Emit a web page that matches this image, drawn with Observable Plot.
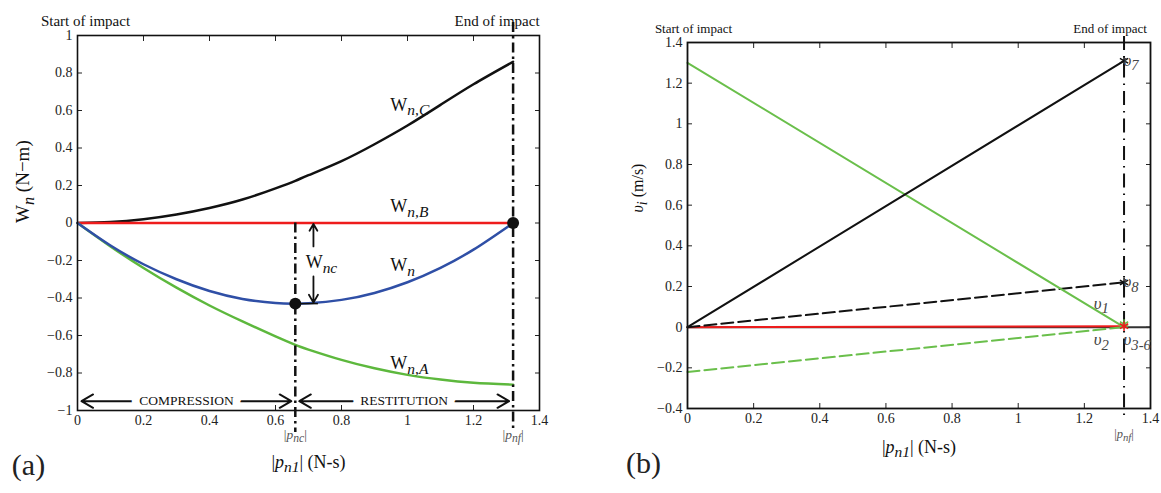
<!DOCTYPE html>
<html><head><meta charset="utf-8">
<script src="https://cdn.jsdelivr.net/npm/d3@7"></script>
<script src="https://cdn.jsdelivr.net/npm/@observablehq/plot@0.6"></script>
<style>
body{margin:0;background:#fff;}
#wrap{display:flex;width:1161px;height:493px;overflow:hidden;}
#wrap svg{display:block;flex:none;}
</style></head><body><div id="wrap"></div>
<script>
// ---------------- DATA ----------------
const pnc = 0.66;   // |p_nc|
const pnf = 1.32;   // |p_nf|
const wMin = -0.43; // W_n at |p_nc|

// panel (a) curves
const xGrid = [0, 0.1, 0.2, 0.3, 0.4, 0.5, 0.6, 0.66, 0.7, 0.8, 0.9, 1.0, 1.1, 1.2, 1.32];
const wnC   = [0, 0.005, 0.02, 0.045, 0.08, 0.125, 0.185, 0.225, 0.255, 0.33, 0.42, 0.52, 0.63, 0.74, 0.86];
const wnB   = [0, 0, 0, 0, 0, 0, 0, 0, 0, 0, 0, 0, 0, 0, 0];
const wn    = [0, -0.12, -0.22, -0.30, -0.363, -0.405, -0.427, -0.43, -0.428, -0.41, -0.373, -0.316, -0.239, -0.142, 0];
const wnA   = [0, -0.125, -0.24, -0.345, -0.44, -0.525, -0.605, -0.65, -0.675, -0.73, -0.775, -0.81, -0.835, -0.852, -0.862];

// panel (b) lines
const pB  = [0, pnf];
const v1  = [1.3, 0];
const v2  = [-0.22, 0];
const v7  = [0, 1.31];
const v8  = [0, 0.22];
const v36 = [0, 0.005];

// ticks
const xTicks  = [0, 0.2, 0.4, 0.6, 0.8, 1, 1.2, 1.4];
const yTicksA = [-1, -0.8, -0.6, -0.4, -0.2, 0, 0.2, 0.4, 0.6, 0.8, 1];
const yTicksB = [-0.4, -0.2, 0, 0.2, 0.4, 0.6, 0.8, 1, 1.2, 1.4];
const extraTicksA = [{x: pnc, label: "|*p*_{nc}|"}, {x: pnf, label: "|*p*_{nf}|"}];
const extraTicksB = [{x: pnf, label: "|*p*_{nf}|"}];

// labels
const curveLabelsA = [
  {x: 0.948, y: 0.63,  label: "W_{n,C}"},
  {x: 0.948, y: 0.087, label: "W_{n,B}"},
  {x: 0.948, y: -0.225, label: "W_{n}"},
  {x: 0.948, y: -0.75, label: "W_{n,A}"}
];
const phases = [
  {name: "COMPRESSION", from: 0, to: pnc},
  {name: "RESTITUTION", from: pnc, to: pnf}
];
const phaseY = -0.95;
const wncX = 0.715;
const wncLabel = "W_{nc}";

// ---------------- HELPERS ----------------
const RED = "#ee1c1c", BLUE = "#2f4fa6", GREEN = "#5db83d", GREEN_B = "#6abf4b", BLACK = "#111";
const fmt = v => (Math.abs(v) < 1e-9 ? "0" : String(+v.toFixed(1))).replace("-", "\u2212");
const rows = (xs, ys) => xs.map((x, i) => ({x, y: ys[i]}));
const serif = "Liberation Serif, Times New Roman, serif";

function enrich(svg) {
  svg.querySelectorAll("text").forEach(t => {
    const s = t.textContent;
    if (!/[_*]/.test(s) || t.querySelector("tspan")) return;
    const fs = parseFloat(getComputedStyle(t).fontSize) || 14;
    const shift = 0.26 * fs;
    t.textContent = "";
    let cur = 0, m;
    const re = /_\{([^}]*)\}|\*([^*]*)\*|([^_*]+)/g;
    while ((m = re.exec(s))) {
      const ts = document.createElementNS("http://www.w3.org/2000/svg", "tspan");
      let target = 0;
      if (m[1] !== undefined) {
        ts.textContent = m[1];
        ts.setAttribute("font-size", (fs * 0.86) + "px");
        ts.setAttribute("font-style", "italic");
        target = shift;
      } else if (m[2] !== undefined) {
        ts.textContent = m[2];
        ts.setAttribute("font-style", "italic");
      } else ts.textContent = m[3];
      if (target !== cur) { ts.setAttribute("dy", (target - cur) + "px"); cur = target; }
      t.appendChild(ts);
    }
  });
}

function boxAxes(yTicks) {
  return [
    Plot.axisY(yTicks, {tickSize: -5, tickPadding: 10, tickFormat: fmt, label: null, fontSize: 14}),
    Plot.axisY(yTicks, {anchor: "right", tickSize: -5, tickFormat: () => "", label: null}),
    Plot.axisX(xTicks, {tickSize: -5, tickPadding: 10, tickFormat: fmt, label: null, fontSize: 14}),
    Plot.axisX(xTicks, {anchor: "top", tickSize: -5, tickFormat: () => "", label: null})
  ];
}

// ---------------- PANEL (a) ----------------
const arrowsA = phases.flatMap(p => {
  const mid = (p.from + p.to) / 2;
  return [{x1: mid, x2: p.from, y: phaseY}, {x1: mid, x2: p.to, y: phaseY}];
});
const plotA = Plot.plot({
  width: 580, height: 493,
  marginLeft: 77, marginRight: 41, marginTop: 35, marginBottom: 83,
  x: {domain: [0, 1.4]},
  y: {domain: [-1, 1]},
  style: {fontFamily: serif, fontSize: "14px", color: "#222", background: "white", overflow: "visible"},
  marks: [
    ...boxAxes(yTicksA),
    Plot.line(rows(xGrid, wnC), {x: "x", y: "y", stroke: BLACK, strokeWidth: 2.5, curve: "natural"}),
    Plot.line(rows(xGrid, wnB), {x: "x", y: "y", stroke: RED, strokeWidth: 2.5}),
    Plot.line(rows(xGrid, wnA), {x: "x", y: "y", stroke: GREEN, strokeWidth: 2.5, curve: "natural"}),
    Plot.line(rows(xGrid, wn), {x: "x", y: "y", stroke: BLUE, strokeWidth: 2.5, curve: "natural"}),
    Plot.ruleX([pnf], {stroke: BLACK, strokeWidth: 2.5, strokeDasharray: "10,4,2.5,4", insetTop: -13, insetBottom: -22}),
    Plot.ruleX([pnc], {y1: 0, y2: -1, stroke: BLACK, strokeWidth: 2.5, strokeDasharray: "10,4,2.5,4", insetBottom: -22}),
    Plot.ruleY([wMin], {x1: pnc, x2: wncX + 0.015, stroke: BLACK, strokeWidth: 1.5}),
    Plot.arrow([{x: wncX, y1: -0.125, y2: 0}, {x: wncX, y1: -0.285, y2: wMin}],
      {x1: "x", x2: "x", y1: "y1", y2: "y2", stroke: BLACK, strokeWidth: 1.8, headLength: 9, insetEnd: 1}),
    Plot.text([wncLabel], {x: wncX, y: -0.21, dx: 8, fontSize: 18, fill: BLACK}),
    Plot.arrow(arrowsA, {x1: "x1", x2: "x2", y1: "y", y2: "y", stroke: BLACK, strokeWidth: 2, headLength: 10, insetEnd: 4}),
    Plot.text(phases, {x: p => (p.from + p.to) / 2, y: phaseY, text: "name", fontSize: 13.5, fill: BLACK,
      stroke: "white", strokeWidth: 16, strokeLinejoin: "round"}),
    Plot.dot([{x: pnc, y: wMin}, {x: pnf, y: 0}], {x: "x", y: "y", r: 6, fill: BLACK}),
    Plot.frame({stroke: BLACK, strokeWidth: 1.6}),
    Plot.text(curveLabelsA, {x: "x", y: "y", text: "label", textAnchor: "start", fontSize: 18, fill: BLACK}),
    Plot.text(extraTicksA, {x: "x", text: "label", frameAnchor: "bottom", dy: 28, fontSize: 13.5, fill: "#555"}),
    Plot.text(["|*p*_{n1}| (N-s)"], {frameAnchor: "bottom", dy: 57, fontSize: 18, fill: BLACK}),
    Plot.text(["W_{n} (N\u2212m)"], {frameAnchor: "left", rotate: -90, dx: -55, fontSize: 19, fill: BLACK}),
    Plot.text(["Start of impact"], {x: 0, frameAnchor: "top", dy: -20, dx: 8, fontSize: 15, fill: BLACK}),
    Plot.text(["End of impact"], {x: pnf, frameAnchor: "top", dy: -20, dx: -16, fontSize: 15, fill: BLACK}),
    Plot.text(["(a)"], {frameAnchor: "bottom-left", dx: -49, dy: 64, fontSize: 30, fill: "#222", textAnchor: "middle"})
  ]
});

// ---------------- PANEL (b) ----------------
const starsB = [
  {x: pnf, y: v7[1], c: BLACK},
  {x: pnf, y: v8[1], c: BLACK},
  {x: pnf, y: v36[1] + 0.01, c: GREEN_B},
  {x: pnf, y: v36[1], c: RED}
];
const labelsB = [
  {x: pnf, y: v7[1], label: "\u03c5_{7}", dx: 7, dy: 2},
  {x: pnf, y: v8[1], label: "\u03c5_{8}", dx: 7, dy: 3},
  {x: 1.23, y: 0.115, label: "\u03c5_{1}", dx: 0, dy: 0},
  {x: 1.23, y: -0.065, label: "\u03c5_{2}", dx: 0, dy: 0},
  {x: pnf, y: -0.065, label: "\u03c5_{3-6}", dx: -1, dy: 0}
];
const plotB = Plot.plot({
  width: 581, height: 493,
  marginLeft: 107, marginRight: 11, marginTop: 42, marginBottom: 85,
  x: {domain: [0, 1.4]},
  y: {domain: [-0.4, 1.4]},
  style: {fontFamily: serif, fontSize: "14px", color: "#222", background: "white", overflow: "visible"},
  marks: [
    ...boxAxes(yTicksB),
    Plot.ruleY([0], {stroke: "#333", strokeWidth: 2}),
    Plot.line(rows(pB, v36), {x: "x", y: "y", stroke: RED, strokeWidth: 2}),
    Plot.line(rows(pB, v8), {x: "x", y: "y", stroke: BLACK, strokeWidth: 2, strokeDasharray: "12,5"}),
    Plot.line(rows(pB, v2), {x: "x", y: "y", stroke: GREEN_B, strokeWidth: 2, strokeDasharray: "12,5"}),
    Plot.line(rows(pB, v1), {x: "x", y: "y", stroke: GREEN_B, strokeWidth: 2}),
    Plot.line(rows(pB, v7), {x: "x", y: "y", stroke: BLACK, strokeWidth: 2}),
    Plot.ruleX([pnf], {stroke: BLACK, strokeWidth: 2, strokeDasharray: "14,6,1.5,6", insetTop: -6, insetBottom: -12}),
    Plot.dot(starsB, {x: "x", y: "y", stroke: "c", symbol: "asterisk", r: 4.5, strokeWidth: 1.5}),
    Plot.frame({stroke: BLACK, strokeWidth: 1.8}),
    Plot.text(labelsB, {x: "x", y: "y", text: "label", dx: "dx", dy: "dy", textAnchor: "start", fontSize: 17, fontStyle: "italic", fill: "#444"}),
    Plot.text(extraTicksB, {x: "x", text: "label", frameAnchor: "bottom", dy: 29, fontSize: 12.5, fill: "#555"}),
    Plot.text(["|*p*_{n1}| (N-s)"], {frameAnchor: "bottom", dy: 44, fontSize: 18, fill: BLACK}),
    Plot.text(["*\u03c5*_{i} (m/s)"], {frameAnchor: "left", rotate: -90, dx: -50, dy: -13, fontSize: 16, fill: BLACK}),
    Plot.text(["Start of impact"], {x: 0, frameAnchor: "top", dy: -19, dx: 6, fontSize: 13, fill: BLACK}),
    Plot.text(["End of impact"], {x: pnf, frameAnchor: "top", dy: -19, dx: -14, fontSize: 13, fill: BLACK}),
    Plot.text(["(b)"], {frameAnchor: "bottom-left", dx: -44, dy: 64, fontSize: 30, fill: "#222", textAnchor: "middle"})
  ]
});

const wrap = document.getElementById("wrap");
wrap.appendChild(plotA);
wrap.appendChild(plotB);
enrich(plotA);
enrich(plotB);
</script>
</body></html>
